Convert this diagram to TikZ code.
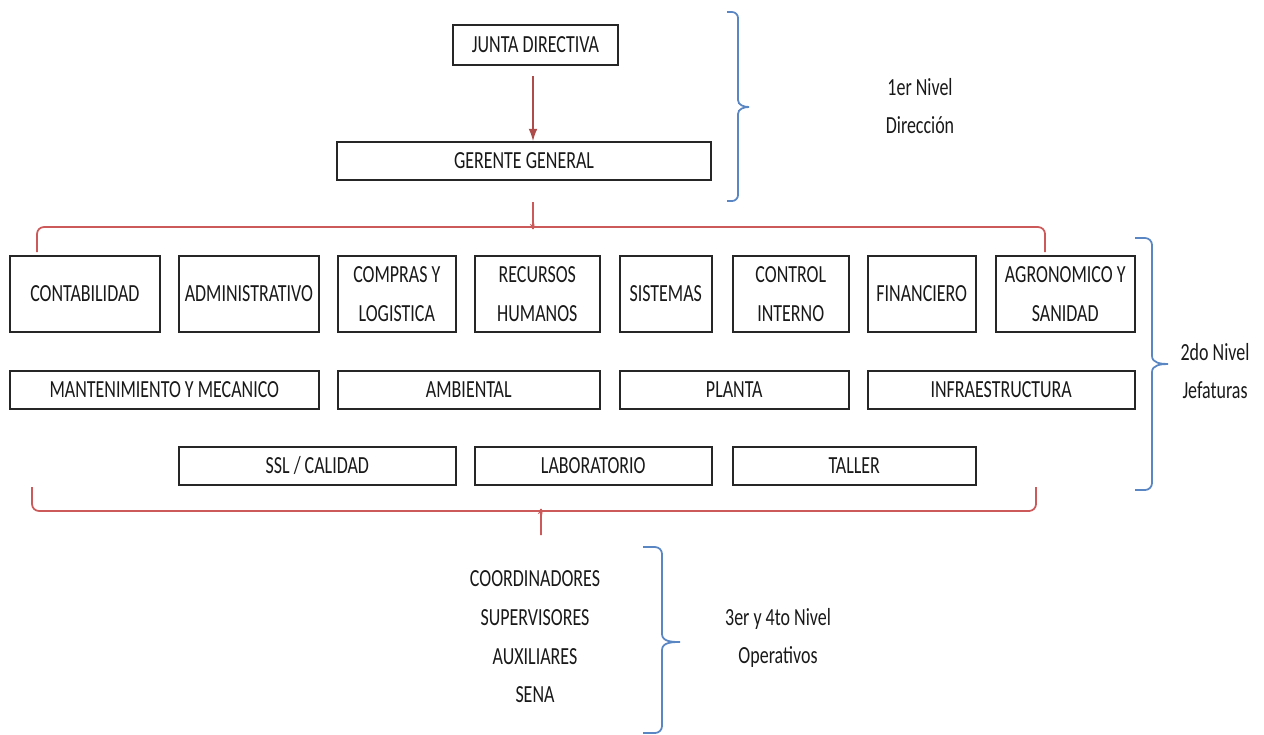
\documentclass[tikz,border=0pt]{standalone}
\usepackage{fontspec}
\setmainfont{Carlito}[FakeStretch=0.73]
\usepackage{xcolor}
\usetikzlibrary{arrows.meta, positioning}

\definecolor{bracered}{RGB}{205,90,90}
\definecolor{braceblue}{RGB}{90,135,195}

\begin{document}
\begin{tikzpicture}[
    x=0.02cm, y=-0.02cm,
    node distance=0.345cm,
    every node/.style={font=\fontsize{14}{22}\selectfont, text=black!90},
    box/.style={rectangle, draw=black!85, line width=1pt, fill=white, minimum height=0.76cm, align=center, inner sep=1pt},
    tallbox/.style={box, minimum height=1.52cm},
    arrow/.style={-{Latex[length=7pt,width=5pt]}, bracered!85!black, line width=0.8pt},
    redbrace/.style={draw=bracered, line width=1pt},
    bluebrace/.style={draw=braceblue, line width=1pt},
    level/.style={align=center}
  ]
    \useasboundingbox (0,0) rectangle (1264,734);

    % 1er nivel
    \node[box, minimum width=3.3cm, minimum height=0.8cm] (junta) at (535.5,45) {JUNTA DIRECTIVA};
    \node[box, minimum width=7.48cm] (gerente) at (524,161) {GERENTE GENERAL};
    \draw[arrow, shorten <=0.2cm] (junta.south -| 533,0) -- (gerente.north -| 533,0);

    % 2do nivel, fila 1
    \node[tallbox, minimum width=3cm, anchor=north west] (conta) at (9,255) {CONTABILIDAD};
    \node[tallbox, minimum width=2.8cm, right=of conta] (admin) {ADMINISTRATIVO};
    \node[tallbox, minimum width=2.36cm, right=of admin] (compras) {COMPRAS Y\\LOGISTICA};
    \node[tallbox, minimum width=2.5cm, right=of compras] (rrhh) {RECURSOS\\HUMANOS};
    \node[tallbox, minimum width=1.84cm, right=0.365cm of rrhh] (sistemas) {SISTEMAS};
    \node[tallbox, minimum width=2.32cm, right=0.385cm of sistemas] (control) {CONTROL\\INTERNO};
    \node[tallbox, minimum width=2.16cm, right=of control] (finan) {FINANCIERO};
    \node[tallbox, minimum width=2.78cm, right=0.365cm of finan] (agro) {AGRONOMICO Y\\SANIDAD};

    % fila 2
    \node[box, minimum width=6.18cm, anchor=north west] (mant) at (9,370) {MANTENIMIENTO Y MECANICO};
    \node[box, minimum width=5.24cm, right=of mant] (ambiental) {AMBIENTAL};
    \node[box, minimum width=4.58cm, right=0.365cm of ambiental] (planta) {PLANTA};
    \node[box, minimum width=5.34cm, right=of planta] (infra) {INFRAESTRUCTURA};

    % fila 3
    \node[box, minimum width=5.54cm, anchor=north west] (ssl) at (178,446) {SSL / CALIDAD};
    \node[box, minimum width=4.74cm, right=of ssl] (lab) {LABORATORIO};
    \node[box, minimum width=4.86cm, right=0.385cm of lab] (taller) {TALLER};

    % 3er y 4to nivel
    \node[level] (operativos) at (535,637) {COORDINADORES\\SUPERVISORES\\AUXILIARES\\SENA};

    % niveles
    \node[level] (nivel1) at (920,106) {1er Nivel\\Dirección};
    \node[level] (nivel2) at (1215,371) {2do Nivel\\Jefaturas};
    \node[level] (nivel3) at (778,638) {3er y 4to Nivel\\Operativos};

    % llaves rojas
    \draw[redbrace, rounded corners=4pt] (37,252) |- (528,227) to[out=0,in=-90] (533,222) -- (533,202)
      (533,222) to[out=-90,in=180] (538,227) -| (1045,252);
    \draw[redbrace, rounded corners=4pt] (32,487) |- (536,511) to[out=0,in=90] (541,516) -- (541,535)
      (541,516) to[out=90,in=180] (546,511) -| (1036,487);

    % llaves azules
    \draw[bluebrace] (727,12) -- (732,12) to[out=0,in=90] (738,18) -- (738,100)
      to[out=-90,in=180] (749,107) to[out=180,in=90] (738,114) -- (738,195)
      to[out=-90,in=0] (732,201) -- (727,201);
    \draw[bluebrace] (1135,238) -- (1145,238) to[out=0,in=90] (1152,245) -- (1152,356)
      to[out=-90,in=180] (1168,364) to[out=180,in=90] (1152,372) -- (1152,483)
      to[out=-90,in=0] (1145,490) -- (1135,490);
    \draw[bluebrace] (643,547) -- (655,547) to[out=0,in=90] (662,554) -- (662,634)
      to[out=-90,in=180] (680,642) to[out=180,in=90] (662,650) -- (662,726)
      to[out=-90,in=0] (655,733) -- (643,733);
  \end{tikzpicture}
\end{document}
